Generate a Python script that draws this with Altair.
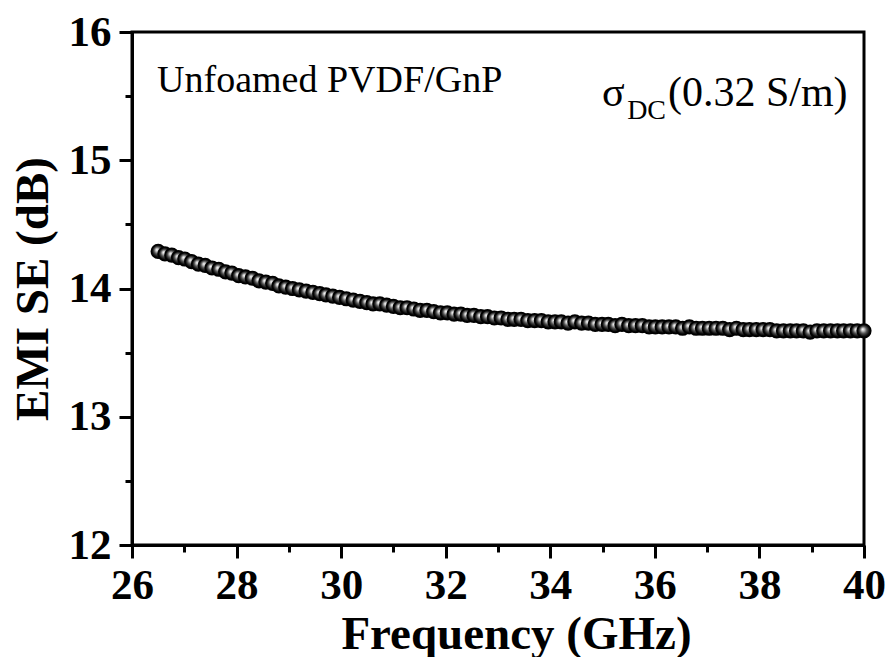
import altair as alt
import pandas as pd

freq_ghz = [
    26.50, 26.63, 26.76, 26.89, 27.01, 27.14, 27.27, 27.40, 27.53, 27.66,
    27.79, 27.91, 28.04, 28.17, 28.30, 28.43, 28.56, 28.69, 28.81, 28.94,
    29.07, 29.20, 29.33, 29.46, 29.59, 29.71, 29.84, 29.97, 30.10, 30.23,
    30.36, 30.49, 30.61, 30.74, 30.87, 31.00, 31.13, 31.26, 31.39, 31.51,
    31.64, 31.77, 31.90, 32.03, 32.16, 32.29, 32.41, 32.54, 32.67, 32.80,
    32.93, 33.06, 33.19, 33.31, 33.44, 33.57, 33.70, 33.83, 33.96, 34.09,
    34.21, 34.34, 34.47, 34.60, 34.73, 34.86, 34.99, 35.11, 35.24, 35.37,
    35.50, 35.63, 35.76, 35.89, 36.01, 36.14, 36.27, 36.40, 36.53, 36.66,
    36.79, 36.91, 37.04, 37.17, 37.30, 37.43, 37.56, 37.69, 37.81, 37.94,
    38.07, 38.20, 38.33, 38.46, 38.59, 38.71, 38.84, 38.97, 39.10, 39.23,
    39.36, 39.49, 39.61, 39.74, 39.87, 40.00,
]

emi_se_db = [
    14.29, 14.27, 14.26, 14.24, 14.23, 14.21, 14.19, 14.18, 14.16, 14.15,
    14.13, 14.12, 14.10, 14.09, 14.08, 14.06, 14.05, 14.04, 14.02, 14.01,
    14.00, 13.99, 13.98, 13.97, 13.96, 13.95, 13.94, 13.93, 13.92, 13.91,
    13.90, 13.89, 13.88, 13.88, 13.87, 13.86, 13.85, 13.85, 13.84, 13.83,
    13.83, 13.82, 13.81, 13.81, 13.80, 13.80, 13.79, 13.79, 13.78, 13.78,
    13.77, 13.77, 13.76, 13.76, 13.76, 13.75, 13.75, 13.75, 13.74, 13.74,
    13.74, 13.73, 13.74, 13.73, 13.73, 13.72, 13.72, 13.72, 13.71, 13.72,
    13.71, 13.71, 13.71, 13.70, 13.70, 13.70, 13.70, 13.70, 13.69, 13.70,
    13.69, 13.69, 13.69, 13.69, 13.69, 13.68, 13.69, 13.68, 13.68, 13.68,
    13.68, 13.68, 13.67, 13.67, 13.67, 13.67, 13.67, 13.66, 13.67, 13.67,
    13.67, 13.67, 13.67, 13.67, 13.67, 13.67,
]

x_tick_values = [26, 27, 28, 29, 30, 31, 32, 33, 34, 35, 36, 37, 38, 39, 40]
y_tick_values = [12, 12.5, 13, 13.5, 14, 14.5, 15, 15.5, 16]

label_sample = "Unfoamed PVDF/GnP"
label_sigma = "σ"
label_sub = "DC"
label_cond = "(0.32 S/m)"

FONT = "Times New Roman, Liberation Serif, Tinos, DejaVu Serif, Noto Serif, serif"

df = pd.DataFrame({"f": freq_ghz, "se": emi_se_db})

x_scale = alt.Scale(domain=[26, 40], nice=False, zero=False)
y_scale = alt.Scale(domain=[12, 16], nice=False, zero=False)

x_axis = alt.Axis(
    title="Frequency (GHz)",
    values=x_tick_values,
    labelExpr="datum.value % 2 === 0 ? format(datum.value, 'd') : ''",
    tickSize={"condition": {"test": "datum.value % 2 === 0", "value": 13}, "value": 7},
    labelFlush=False,
    labelOverlap=False,
    labelPadding=6,
    titlePadding=4,
    titleX=384,
    titleAnchor="start",
    titleAlign="center",
    grid=False,
)
y_axis = alt.Axis(
    title="EMI SE (dB)",
    values=y_tick_values,
    labelExpr="datum.value % 1 === 0 ? format(datum.value, 'd') : ''",
    tickSize={"condition": {"test": "datum.value % 1 === 0", "value": 13}, "value": 7},
    labelFlush=False,
    labelOverlap=False,
    labelPadding=8,
    titlePadding=11,
    grid=False,
)

sphere = {
    "gradient": "radial",
    "x1": 0.4, "y1": 0.38, "r1": 0,
    "x2": 0.5, "y2": 0.5, "r2": 0.5,
    "stops": [
        {"offset": 0.0, "color": "#ffffff"},
        {"offset": 0.22, "color": "#c4c4c4"},
        {"offset": 0.5, "color": "#555555"},
        {"offset": 0.8, "color": "#111111"},
        {"offset": 1.0, "color": "#000000"},
    ],
}

points = alt.Chart(df).mark_circle(
    size=185, fill=sphere, stroke="black", strokeWidth=1.6, opacity=1
).encode(
    x=alt.X("f:Q", scale=x_scale, axis=x_axis),
    y=alt.Y("se:Q", scale=y_scale, axis=y_axis),
)

def text_layer(txt, xv, yv, size):
    d = pd.DataFrame({"x": [xv], "y": [yv], "t": [txt]})
    return alt.Chart(d).mark_text(
        font=FONT, fontSize=size, align="left", baseline="alphabetic", color="black"
    ).encode(
        x=alt.X("x:Q", scale=x_scale),
        y=alt.Y("y:Q", scale=y_scale),
        text="t:N",
    )

t1 = text_layer(label_sample, 26.48, 15.53, 38)
t2 = text_layer(label_sigma, 34.99, 15.42, 42)
t3 = text_layer(label_sub, 35.47, 15.32, 28)
t4 = text_layer(label_cond, 36.25, 15.42, 42)

chart = alt.layer(points, t1, t2, t3, t4).properties(
    width=732,
    height=513,
    autosize=alt.AutoSizeParams(type="none"),
    padding={"left": 124, "top": 24, "right": 21, "bottom": 112},
).configure_view(
    stroke="black", strokeWidth=3
).configure_axis(
    domainColor="black", domainWidth=3, tickColor="black", tickWidth=3,
    labelFont=FONT, labelFontWeight="bold", labelFontSize=43, labelColor="black",
    titleFont=FONT, titleFontWeight="bold", titleFontSize=47, titleColor="black",
)

chart.save("out.html", embed_options={"renderer": "svg", "actions": False})
